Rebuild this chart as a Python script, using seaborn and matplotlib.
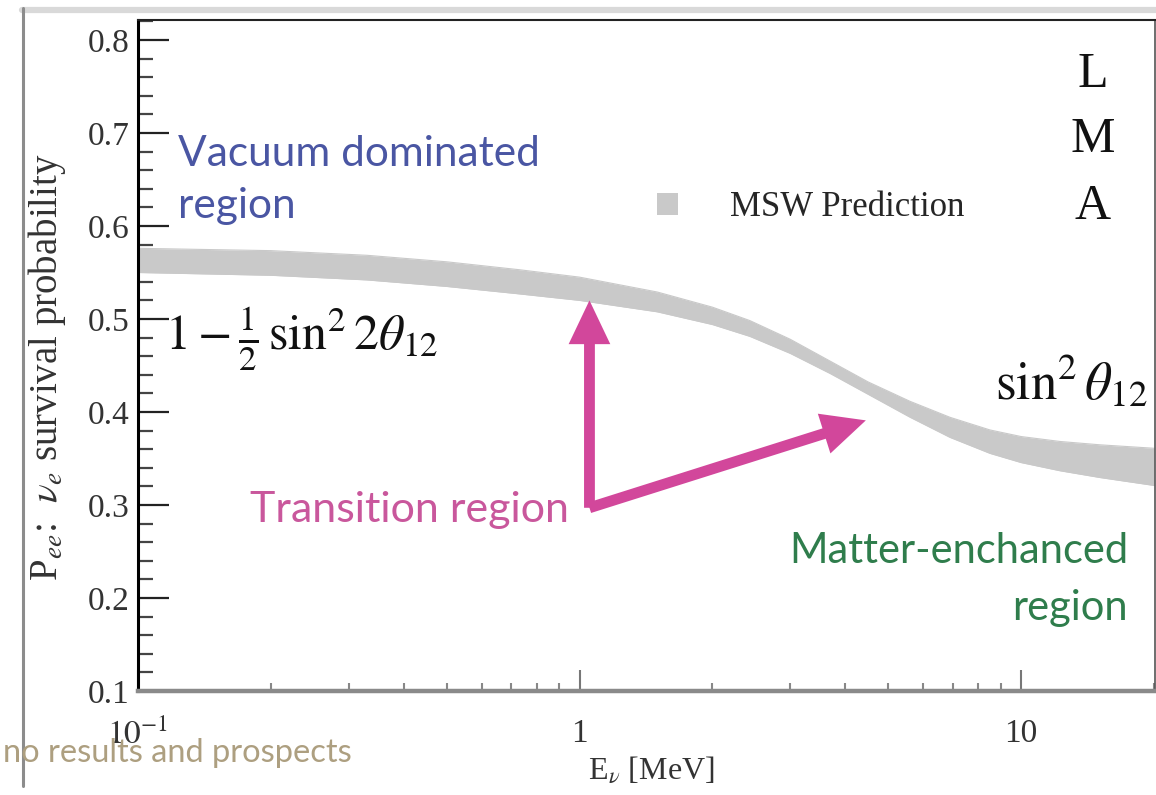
import numpy as np
import pandas as pd
import matplotlib
matplotlib.use("Agg")
import matplotlib.pyplot as plt
import seaborn as sns
from matplotlib.patches import Patch
from matplotlib.lines import Line2D
from matplotlib.ticker import LogLocator, NullFormatter, FixedLocator, MultipleLocator

# ---------------- data ----------------
energy_mev = [0.1, 0.2, 0.33, 0.5, 0.73, 1.0, 1.5, 2.0, 2.43, 3.0, 3.7, 4.5, 5.6, 6.9, 8.5,
              10.0, 12.25, 15.1, 20.0]
band_upper = [0.576, 0.5735, 0.5685, 0.5615, 0.553, 0.545, 0.529, 0.5127, 0.4983, 0.4782, 0.4545,
              0.4324, 0.4115, 0.3943, 0.3807, 0.3736, 0.3683, 0.3647, 0.361]
band_lower = [0.550, 0.547, 0.542, 0.535, 0.527, 0.520, 0.5077, 0.494, 0.4813, 0.463, 0.4412,
              0.4191, 0.3944, 0.3727, 0.3555, 0.3456, 0.3368, 0.3295, 0.321]

y_ticks = [0.1, 0.2, 0.3, 0.4, 0.5, 0.6, 0.7, 0.8]
y_tick_labels = ["0.1", "0.2", "0.3", "0.4", "0.5", "0.6", "0.7", "0.8"]
x_ticks = [0.1, 1, 10]
x_tick_labels = [r"$10^{-1}$", "1", "10"]

# arrow anchor points (E [MeV], P)
arrow_tail = (1.053, 0.297)
arrow_tip_up = (1.053, 0.520)
arrow_tip_diag = (4.45, 0.391)

# ---------------- style ----------------
sns.set_theme(style="white")
plt.rcParams["font.family"] = ["Liberation Serif", "DejaVu Serif"]
plt.rcParams["mathtext.fontset"] = "stix"

BAND = "#c9c9c9"
MAGENTA = "#d2479b"

fig = plt.figure(figsize=(11.56, 7.95), dpi=100)
ax = fig.add_axes([138 / 1156, 1 - 691 / 795, (1155 - 138) / 1156, (691 - 20) / 795])

df = pd.DataFrame({"E": energy_mev, "upper": band_upper, "lower": band_lower})
ax.fill_between(df["E"], df["lower"], df["upper"], color=BAND, lw=0, zorder=2)
sns.lineplot(data=df, x="E", y="upper", ax=ax, color=BAND, lw=0.8, zorder=2)
sns.lineplot(data=df, x="E", y="lower", ax=ax, color=BAND, lw=0.8, zorder=2)

ax.set_xscale("log")
ax.set_xlim(0.1, 20.1)
ax.set_ylim(0.1, 0.8215)

ax.xaxis.set_major_locator(FixedLocator(x_ticks))
ax.set_xticklabels(x_tick_labels)
ax.xaxis.set_minor_locator(LogLocator(base=10, subs=np.arange(2, 10), numticks=20))
ax.xaxis.set_minor_formatter(NullFormatter())
ax.set_yticks(y_ticks)
ax.set_yticklabels(y_tick_labels)
ax.yaxis.set_minor_locator(MultipleLocator(0.02))

ax.tick_params(axis="y", which="major", direction="in", length=22, width=1.6, color="#222222",
               labelsize=24, labelcolor="#333333", pad=6, left=True)
ax.tick_params(axis="y", which="minor", direction="in", length=11, width=1.6, color="#444444", left=True)
ax.tick_params(axis="x", which="major", direction="in", length=15, width=1.5, color="#777777",
               labelsize=24, labelcolor="#333333", pad=20, bottom=True)
ax.tick_params(axis="x", which="minor", direction="in", length=6, width=1.5, color="#888888", bottom=True)

ax.spines["left"].set_color("black"); ax.spines["left"].set_linewidth(2.2)
ax.spines["bottom"].set_color("#8a8a8a"); ax.spines["bottom"].set_linewidth(3.2)
ax.spines["top"].set_color("#222222"); ax.spines["top"].set_linewidth(1.5)
ax.spines["right"].set_color("#555555"); ax.spines["right"].set_linewidth(1.2)

ax.set_ylabel(r"P$_{ee}$:  $\nu_e$ survival probability", fontsize=28, color="#333333", va="center")
ax.yaxis.set_label_coords(-0.0895, 0.483)
ax.set_xlabel(r"E$_\nu$ [MeV]", fontsize=23, color="#333333", va="center")
ax.xaxis.set_label_coords(0.505, -0.118)

# legend
handle = Patch(facecolor=BAND, edgecolor="none")
ax.legend([handle], ["MSW Prediction"], loc="center left", bbox_to_anchor=(0.51, 0.72),
          frameon=False, fontsize=25, handlelength=0.6, handleheight=0.6, handletextpad=1.5,
          borderpad=0, borderaxespad=0)

# LMA
for yy, ch in zip([0.918, 0.821, 0.721], ["L", "M", "A"]):
    ax.text(0.939, yy, ch, transform=ax.transAxes, ha="center", va="center", fontsize=36, color="#111111")

sans = ["Lato", "DejaVu Sans"]
ax.text(0.0393, 0.782, "Vacuum dominated", transform=ax.transAxes, ha="left", va="baseline",
        fontsize=30.5, color="#4a56a3", family=sans)
ax.text(0.0393, 0.705, "region", transform=ax.transAxes, ha="left", va="baseline",
        fontsize=30.5, color="#4a56a3", family=sans)
ax.text(0.110, 0.252, "Transition region", transform=ax.transAxes, ha="left", va="baseline",
        fontsize=31, color="#c9579c", family=sans)
ax.text(0.9735, 0.191, "Matter-enchanced", transform=ax.transAxes, ha="right", va="baseline",
        fontsize=30, color="#2f7d4c", family=sans)
ax.text(0.9735, 0.106, "region", transform=ax.transAxes, ha="right", va="baseline",
        fontsize=30, color="#2f7d4c", family=sans)

ax.text(0.0265, 0.508, r"$1-\frac{1}{2}\,\sin^2 2\theta_{12}$", transform=ax.transAxes,
        ha="left", va="baseline", fontsize=36, color="#111111")
ax.text(0.843, 0.434, r"$\sin^2\theta_{12}$", transform=ax.transAxes,
        ha="left", va="baseline", fontsize=38, color="#111111")

# arrows
astyle = "simple, head_length=1.05, head_width=1.0, tail_width=0.26"
for tip in [arrow_tip_up, arrow_tip_diag]:
    ax.annotate("", xy=tip, xytext=arrow_tail, xycoords="data", textcoords="data",
                arrowprops=dict(arrowstyle=astyle, mutation_scale=30, color=MAGENTA,
                                shrinkA=0, shrinkB=0, lw=0), zorder=5)

# slide decorations
fig.add_artist(Line2D([22 / 1156, 1.0], [1 - 10 / 795, 1 - 10 / 795], color="#d9d9d9", lw=4.5))
fig.add_artist(Line2D([23 / 1156, 23 / 1156], [1 - 8 / 795, 1 - 786 / 795], color="#8c8c8c", lw=2.2))
for xp, lab in [(128, "10"), (580, "1"), (1022, "10")]:
    fig.text(xp / 1156, 1 - 5 / 795, lab, ha="center", va="bottom", fontsize=22, color="#555555")
fig.text(352 / 1156, 1 - 762 / 795, "no results and prospects", ha="right", va="baseline",
         fontsize=23.5, color="#ad9f80", family=sans)

fig.savefig("out.png", dpi=100)
